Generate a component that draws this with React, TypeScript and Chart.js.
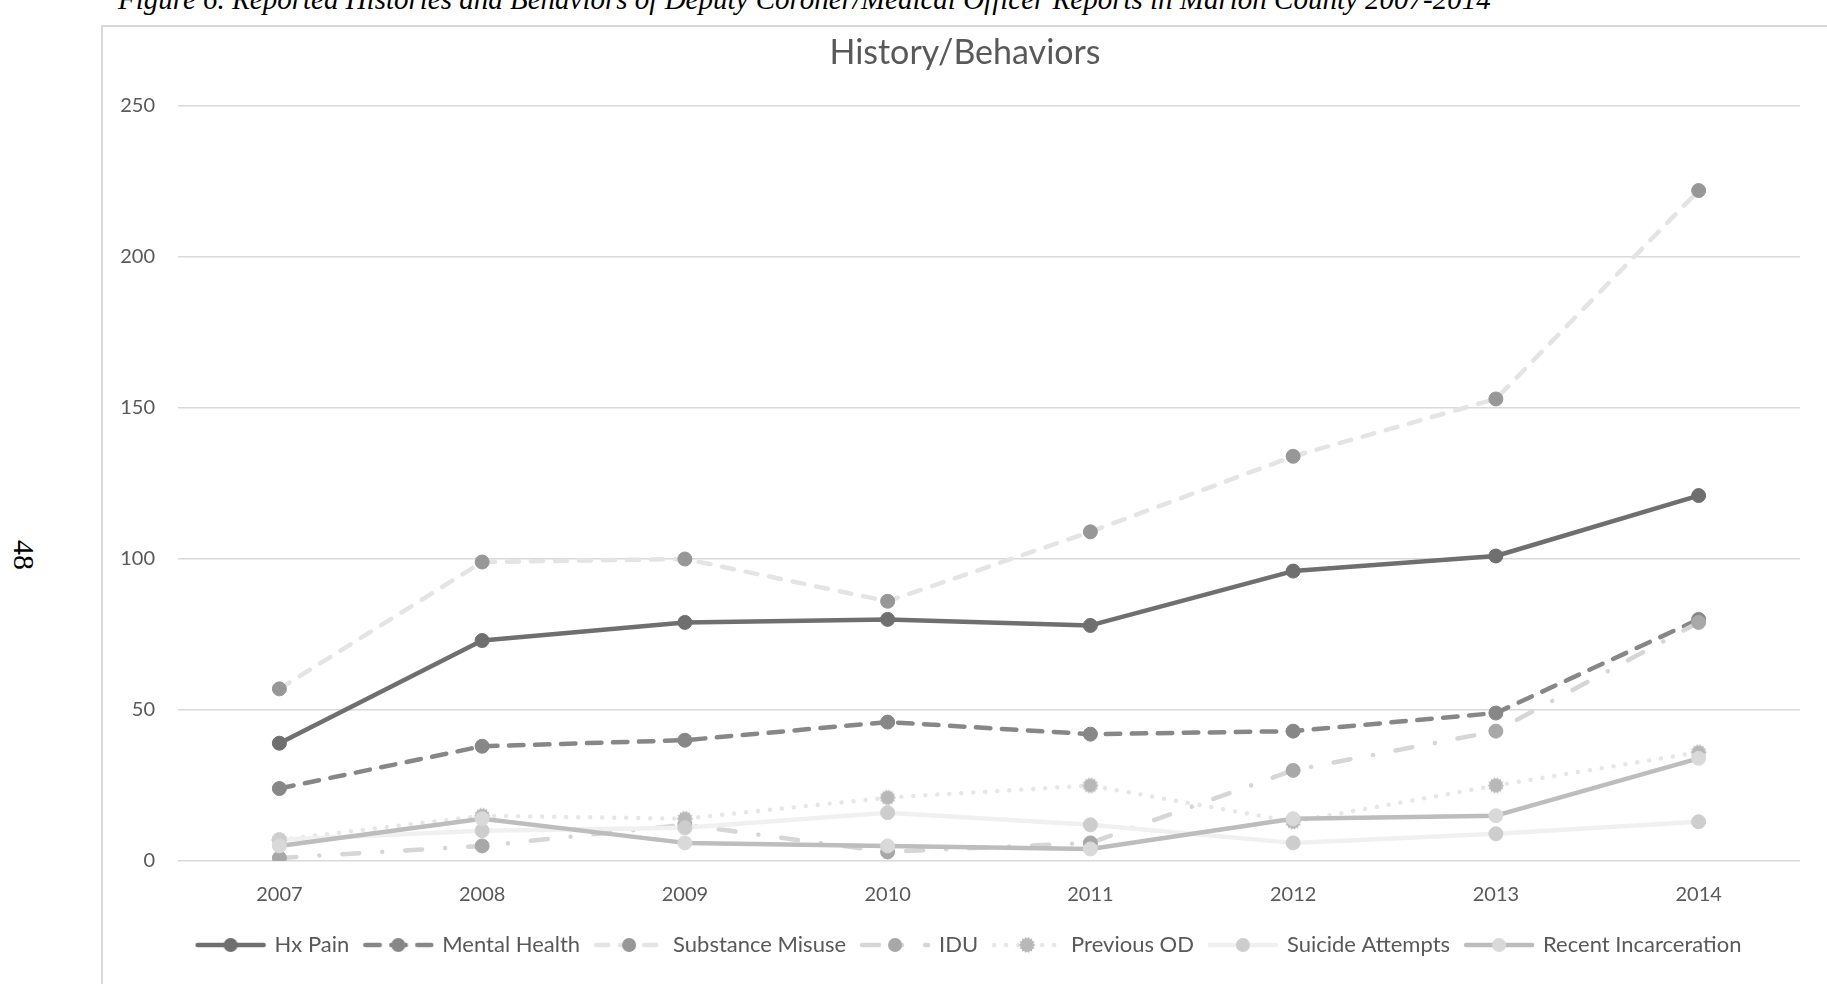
import React, { useEffect, useRef } from "react";
import { Chart, registerables } from "chart.js";

Chart.register(...registerables);

// ---- data ----
const years = ["2007", "2008", "2009", "2010", "2011", "2012", "2013", "2014"];
const hxPain = [39, 73, 79, 80, 78, 96, 101, 121];
const mentalHealth = [24, 38, 40, 46, 42, 43, 49, 80];
const substanceMisuse = [57, 99, 100, 86, 109, 134, 153, 222];
const idu = [1, 5, 12, 3, 6, 30, 43, 79];
const previousOD = [7, 15, 14, 21, 25, 13, 25, 36];
const suicideAttempts = [7, 10, 11, 16, 12, 6, 9, 13];
const recentIncarceration = [5, 14, 6, 5, 4, 14, 15, 34];
const seriesNames = [
  "Hx Pain",
  "Mental Health",
  "Substance Misuse",
  "IDU",
  "Previous OD",
  "Suicide Attempts",
  "Recent Incarceration",
];
const yMin = 0;
const yMax = 250;
const yStep = 50;
const chartTitle = "History/Behaviors";
const captionText =
  "Figure 6. Reported Histories and Behaviors of Deputy Coroner/Medical Officer Reports in Marion County 2007-2014";
const pageNumber = "48";

// ---- styles ----
const lineColors = ["#6f6f6f", "#878787", "#e4e4e4", "#d6d6d6", "#e6e6e6", "#f0f0f0", "#bdbdbd"];
const markerColors = ["#6f6f6f", "#878787", "#979797", "#a8a8a8", "#b8b8b8", "#cdcdcd", "#d9d9d9"];
const dashes: number[][] = [[], [14.5, 11.5], [12, 12], [17, 23, 0.01, 23], [0.01, 12], [], []];
const TEXT = "#595959";
const FONT = "Lato";

function makeGear(color: string, r: number): HTMLCanvasElement {
  const c = document.createElement("canvas");
  const s = Math.ceil(r * 2 + 6);
  c.width = s;
  c.height = s;
  const ctx = c.getContext("2d")!;
  ctx.translate(s / 2, s / 2);
  ctx.fillStyle = color;
  ctx.beginPath();
  const teeth = 14;
  for (let i = 0; i < teeth * 2; i++) {
    const a = (i * Math.PI) / teeth;
    const rr = i % 2 === 0 ? r + 1.3 : r - 0.6;
    ctx.lineTo(rr * Math.cos(a), rr * Math.sin(a));
  }
  ctx.closePath();
  ctx.fill();
  return c;
}

function makeLegendImage(
  lineColor: string,
  dash: number[],
  markerColor: string,
  gear: HTMLCanvasElement | null
): HTMLCanvasElement {
  const w = 72;
  const h = 20;
  const c = document.createElement("canvas");
  c.width = w;
  c.height = h;
  const ctx = c.getContext("2d")!;
  ctx.strokeStyle = lineColor;
  ctx.lineWidth = 4.5;
  ctx.lineCap = "round";
  ctx.setLineDash(dash);
  ctx.beginPath();
  ctx.moveTo(3, h / 2);
  ctx.lineTo(w - 3, h / 2);
  ctx.stroke();
  ctx.setLineDash([]);
  if (gear) {
    ctx.drawImage(gear, w / 2 - gear.width / 2, h / 2 - gear.height / 2);
  } else {
    ctx.fillStyle = markerColor;
    ctx.beginPath();
    ctx.arc(w / 2, h / 2, 7, 0, Math.PI * 2);
    ctx.fill();
  }
  return c;
}

const shiftPlugin = {
  id: "shiftBlocks",
  afterLayout(chart: any) {
    if (chart.titleBlock) chart.titleBlock.left += 27;
    if (chart.legend) chart.legend.left += 36;
  },
};

export default function App() {
  const ref = useRef<HTMLCanvasElement | null>(null);

  useEffect(() => {
    if (!ref.current) return;
    const seriesData = [
      hxPain,
      mentalHealth,
      substanceMisuse,
      idu,
      previousOD,
      suicideAttempts,
      recentIncarceration,
    ];
    const gear = makeGear(markerColors[4], 7);
    const legendImages = seriesNames.map((_, i) =>
      makeLegendImage(lineColors[i], dashes[i], markerColors[i], i === 4 ? gear : null)
    );
    const datasets = seriesNames.map((name, i) => ({
      label: name,
      data: seriesData[i],
      borderColor: lineColors[i],
      backgroundColor: markerColors[i],
      borderWidth: 4.5,
      borderDash: dashes[i],
      borderCapStyle: "round" as const,
      borderJoinStyle: "round" as const,
      tension: 0,
      fill: false,
      pointRadius: 7,
      pointBorderWidth: 1,
      pointBackgroundColor: markerColors[i],
      pointBorderColor: markerColors[i],
      pointStyle: i === 4 ? gear : "circle",
      order: seriesNames.length - i,
    }));

    const chart = new Chart(ref.current, {
      type: "line",
      data: { labels: years, datasets: datasets as any },
      plugins: [shiftPlugin as any],
      options: {
        animation: false,
        responsive: false,
        maintainAspectRatio: false,
        layout: { padding: { top: 0, left: 0, right: 27, bottom: 18 } },
        plugins: {
          tooltip: { enabled: false },
          title: {
            display: true,
            text: chartTitle,
            color: TEXT,
            font: { family: FONT, size: 34, weight: "normal" as any },
            padding: { top: 23.6, bottom: 32.6 },
          },
          legend: {
            display: true,
            position: "bottom",
            labels: {
              usePointStyle: true,
              pointStyleWidth: 66,
              padding: 16,
              color: TEXT,
              font: { family: FONT, size: 22 },
              generateLabels: (c: any) =>
                c.data.datasets.map((ds: any, i: number) => ({
                  text: ds.label,
                  pointStyle: legendImages[i],
                  fillStyle: "rgba(0,0,0,0)",
                  strokeStyle: "rgba(0,0,0,0)",
                  lineWidth: 0,
                  hidden: false,
                  datasetIndex: i,
                  fontColor: TEXT,
                })),
            },
          },
        },
        scales: {
          x: {
            type: "category",
            offset: true,
            grid: { display: false },
            border: { display: false },
            ticks: { color: TEXT, font: { family: FONT, size: 20 }, padding: 14 },
            afterFit: (s: any) => {
              s.height = 57;
            },
          },
          y: {
            min: yMin,
            max: yMax,
            ticks: { stepSize: yStep, color: TEXT, font: { family: FONT, size: 20 }, padding: 23 },
            grid: { color: "#d9d9d9", lineWidth: 1.5, drawTicks: false },
            border: { display: false },
            afterFit: (s: any) => {
              s.width = 75;
            },
          },
        },
      },
    });
    return () => chart.destroy();
  }, []);

  return (
    <div style={{ position: "absolute", left: 0, top: 0, width: 1827, height: 984, overflow: "hidden" }}>
      <div
        style={{
          position: "absolute",
          left: 118,
          top: -15,
          whiteSpace: "nowrap",
          fontFamily: "'Liberation Serif', 'Times New Roman', serif",
          fontStyle: "italic",
          fontSize: 29,
          lineHeight: "29px",
          color: "#000",
        }}
      >
        {captionText}
      </div>
      <div
        style={{
          position: "absolute",
          left: 24,
          top: 555,
          transform: "translate(-50%, -50%) rotate(90deg)",
          fontFamily: "'Liberation Serif', 'Times New Roman', serif",
          fontSize: 30,
          lineHeight: "30px",
          color: "#000",
        }}
      >
        {pageNumber}
      </div>
      <div
        style={{
          position: "absolute",
          left: 101,
          top: 25,
          width: 1726,
          height: 959,
          boxSizing: "border-box",
          borderLeft: "2px solid #d9d9d9",
          borderTop: "2px solid #d9d9d9",
          background: "#fff",
        }}
      />
      <canvas
        ref={ref}
        width={1724}
        height={975}
        style={{ position: "absolute", left: 103, top: 9, display: "block", width: 1724, height: 975 }}
      />
    </div>
  );
}
